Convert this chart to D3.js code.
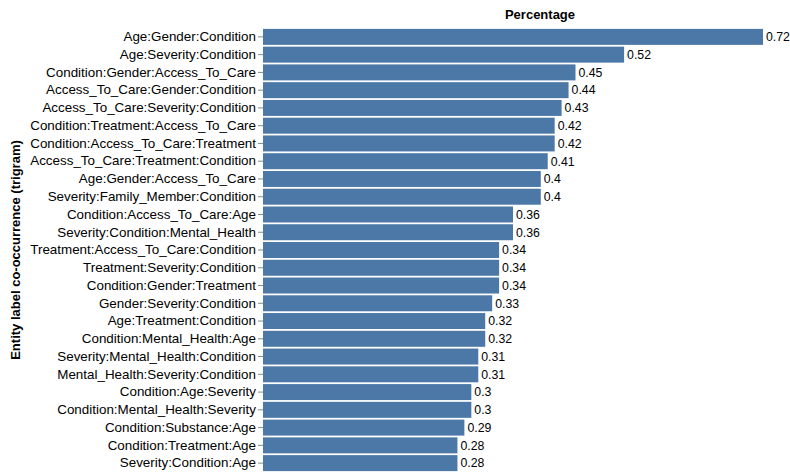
<!DOCTYPE html>
<html>
<head>
<meta charset="utf-8">
<script src="https://cdn.jsdelivr.net/npm/d3@7"></script>
<style>
  html, body { margin: 0; padding: 0; background: #fff; }
  svg { display: block; font-family: "Liberation Sans", Arial, Helvetica, sans-serif; }
</style>
</head>
<body>
<svg id="chart" width="790" height="473"></svg>
<script>
const categories = [
  "Age:Gender:Condition",
  "Age:Severity:Condition",
  "Condition:Gender:Access_To_Care",
  "Access_To_Care:Gender:Condition",
  "Access_To_Care:Severity:Condition",
  "Condition:Treatment:Access_To_Care",
  "Condition:Access_To_Care:Treatment",
  "Access_To_Care:Treatment:Condition",
  "Age:Gender:Access_To_Care",
  "Severity:Family_Member:Condition",
  "Condition:Access_To_Care:Age",
  "Severity:Condition:Mental_Health",
  "Treatment:Access_To_Care:Condition",
  "Treatment:Severity:Condition",
  "Condition:Gender:Treatment",
  "Gender:Severity:Condition",
  "Age:Treatment:Condition",
  "Condition:Mental_Health:Age",
  "Severity:Mental_Health:Condition",
  "Mental_Health:Severity:Condition",
  "Condition:Age:Severity",
  "Condition:Mental_Health:Severity",
  "Condition:Substance:Age",
  "Condition:Treatment:Age",
  "Severity:Condition:Age"
];
const percentages = [0.72, 0.52, 0.45, 0.44, 0.43, 0.42, 0.42, 0.41, 0.4, 0.4,
  0.36, 0.36, 0.34, 0.34, 0.34, 0.33, 0.32, 0.32, 0.31, 0.31, 0.3, 0.3, 0.29, 0.28, 0.28];
const xTitle = "Percentage";
const yTitle = "Entity label co-occurrence (trigram)";

const data = categories.map((c, i) => ({ cat: c, val: percentages[i] }));

const svg = d3.select("#chart");
const marginLeft = 263, marginTop = 28, plotW = 500, plotH = 444;

const x = d3.scaleLinear().domain([0, d3.max(percentages)]).range([0, plotW]);
const y = d3.scaleBand().domain(categories).range([0, plotH]).paddingInner(0.1).paddingOuter(0.05);

const g = svg.append("g").attr("transform", `translate(${marginLeft},${marginTop})`);

g.selectAll("rect.bar").data(data).join("rect")
  .attr("class", "bar")
  .attr("x", 0)
  .attr("y", d => y(d.cat))
  .attr("width", d => x(d.val))
  .attr("height", y.bandwidth())
  .attr("fill", "#4c78a8");

g.selectAll("text.val").data(data).join("text")
  .attr("class", "val")
  .attr("x", d => x(d.val) + 3)
  .attr("y", d => y(d.cat) + y.bandwidth() / 2)
  .attr("dy", "0.35em")
  .attr("font-size", 12.3)
  .attr("fill", "#000")
  .text(d => String(d.val));

const yAxis = d3.axisLeft(y).tickSize(5).tickPadding(2);
const ya = g.append("g").call(yAxis);
ya.select(".domain").remove();
ya.selectAll(".tick line").attr("stroke", "#888");
ya.selectAll(".tick text")
  .attr("font-size", 13.4)
  .attr("fill", "#000")
  .attr("font-family", "'Liberation Sans', Arial, Helvetica, sans-serif");

svg.append("text")
  .attr("x", 540)
  .attr("y", 19)
  .attr("text-anchor", "middle")
  .attr("font-size", 13)
  .attr("font-weight", "bold")
  .attr("fill", "#000")
  .text(xTitle);

svg.append("text")
  .attr("transform", `translate(20,${marginTop + plotH / 2}) rotate(-90)`)
  .attr("text-anchor", "middle")
  .attr("font-size", 13)
  .attr("font-weight", "bold")
  .attr("fill", "#000")
  .text(yTitle);
</script>
</body>
</html>
